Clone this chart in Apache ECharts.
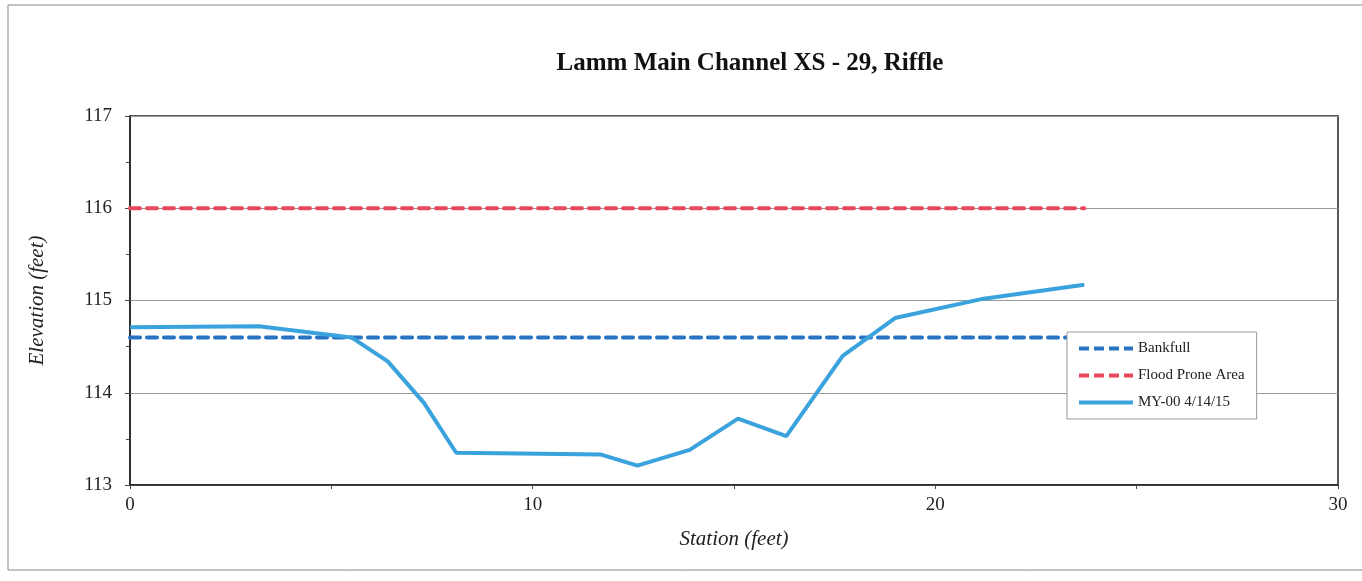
<!DOCTYPE html>
<html>
<head>
<meta charset="utf-8">
<script src="https://cdn.jsdelivr.net/npm/echarts@6/dist/echarts.min.js"></script>
<style>html,body{margin:0;padding:0;background:#fff;}#c{width:1362px;height:581px;}</style>
</head>
<body>
<div id="c"></div>
<script>
const titleText = 'Lamm Main Channel XS - 29, Riffle';
const seriesNames = ['Bankfull', 'Flood Prone Area', 'MY-00 4/14/15'];
const bankfullStation = [0, 23.7];
const bankfullElev = [114.6, 114.6];
const floodStation = [0, 23.7];
const floodElev = [116.0, 116.0];
const myStation = [0, 3.2, 5.5, 6.4, 7.3, 8.1, 11.7, 12.6, 13.9, 15.1, 16.3, 17.7, 19.0, 21.2, 23.7];
const myElev = [114.71, 114.72, 114.6, 114.34, 113.89, 113.35, 113.33, 113.21, 113.38, 113.72, 113.53, 114.4, 114.81, 115.02, 115.17];
const xTicks = [0, 10, 20, 30];
const yTicks = [113, 114, 115, 116, 117];

const pair = (xs, ys) => xs.map((x, i) => [x, ys[i]]);
const serif = 'Liberation Serif';
const dashIcon = 'path://M0,0h10v4h-10z M15,0h10v4h-10z M30,0h10v4h-10z M45,0h9v4h-9z';
const solidIcon = 'path://M0,0h54v4h-54z';
const chart = echarts.init(document.getElementById('c'));
chart.setOption({
  animation: false,
  backgroundColor: '#fff',
  title: {
    text: titleText, left: 745, top: 46, textAlign: 'center',
    textStyle: { fontFamily: serif, fontWeight: 'bold', fontSize: 25, color: '#111' }
  },
  graphic: [{
    type: 'rect', shape: { x: 8, y: 5, width: 1360, height: 565 },
    style: { fill: 'none', stroke: '#888', lineWidth: 1 }, silent: true, z: -1
  }],
  grid: { left: 130, top: 116, width: 1208, height: 369, show: true, borderColor: '#222', borderWidth: 1.5, backgroundColor: 'transparent' },
  legend: {
    orient: 'vertical', left: 1067, top: 332, padding: [8, 12, 8, 12], itemGap: 10,
    backgroundColor: '#fff', borderColor: '#999', borderWidth: 1,
    itemWidth: 54, itemHeight: 4,
    textStyle: { fontFamily: serif, fontSize: 15, color: '#222', lineHeight: 17 },
    data: [
      { name: seriesNames[0], icon: dashIcon },
      { name: seriesNames[1], icon: dashIcon },
      { name: seriesNames[2], icon: solidIcon }
    ]
  },
  xAxis: {
    type: 'value', min: 0, max: 30, interval: 10,
    name: 'Station (feet)', nameLocation: 'middle', nameGap: 44,
    nameTextStyle: { fontFamily: serif, fontStyle: 'italic', fontSize: 21, color: '#222' },
    axisLine: { show: true, lineStyle: { color: '#222', width: 1.5 } },
    axisTick: { show: true, length: 4, lineStyle: { color: '#444' } },
    minorTick: { show: true, splitNumber: 2, length: 4, lineStyle: { color: '#444' } },
    axisLabel: { fontFamily: serif, fontSize: 19, color: '#222', margin: 11,
      formatter: v => xTicks.includes(v) ? String(v) : '' },
    splitLine: { show: false }
  },
  yAxis: {
    type: 'value', min: 113, max: 117, interval: 1,
    name: 'Elevation (feet)', nameLocation: 'middle', nameGap: 82,
    nameTextStyle: { fontFamily: serif, fontStyle: 'italic', fontSize: 21, color: '#222' },
    axisLine: { show: true, lineStyle: { color: '#222', width: 1.5 } },
    axisTick: { show: true, length: 5, lineStyle: { color: '#444' } },
    minorTick: { show: true, splitNumber: 2, length: 4, lineStyle: { color: '#444' } },
    axisLabel: { fontFamily: serif, fontSize: 19, color: '#222', margin: 18,
      formatter: v => yTicks.includes(v) ? String(v) : '' },
    splitLine: { show: true, lineStyle: { color: '#999', width: 1 } }
  },
  series: [
    { name: seriesNames[0], type: 'line', data: pair(bankfullStation, bankfullElev), symbol: 'none',
      lineStyle: { color: '#2872c4', width: 4, type: [10, 7], cap: 'round' }, itemStyle: { color: '#2872c4' }, z: 3 },
    { name: seriesNames[1], type: 'line', data: pair(floodStation, floodElev), symbol: 'none',
      lineStyle: { color: '#e8485c', width: 4, type: [10, 7], cap: 'round' }, itemStyle: { color: '#e8485c' }, z: 3 },
    { name: seriesNames[2], type: 'line', data: pair(myStation, myElev), symbol: 'none',
      lineStyle: { color: '#3aa2dc', width: 4 }, itemStyle: { color: '#3aa2dc' }, z: 4 }
  ]
});
</script>
</body>
</html>
